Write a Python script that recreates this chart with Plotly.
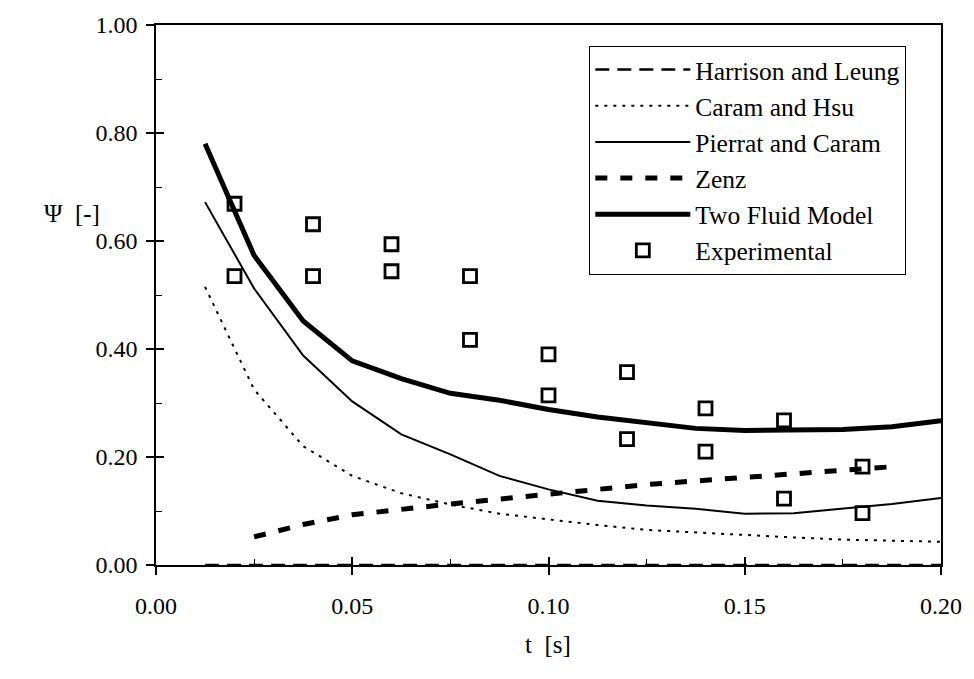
import plotly.graph_objects as go

# model curves (t in s)
t_model = [0.0125, 0.025, 0.0375, 0.05, 0.0625, 0.075, 0.0875, 0.10, 0.1125,
           0.125, 0.1375, 0.15, 0.1625, 0.175, 0.1875, 0.20]
harrison = [0.0] * len(t_model)
caram_hsu = [0.515, 0.325, 0.220, 0.165, 0.133, 0.112, 0.095, 0.084, 0.074,
             0.065, 0.060, 0.055, 0.051, 0.047, 0.045, 0.043]
pierrat = [0.672, 0.512, 0.388, 0.303, 0.242, 0.205, 0.165, 0.140, 0.119,
           0.110, 0.104, 0.095, 0.096, 0.105, 0.113, 0.124]
two_fluid = [0.780, 0.573, 0.452, 0.378, 0.345, 0.318, 0.305, 0.288, 0.274,
             0.264, 0.253, 0.249, 0.251, 0.251, 0.256, 0.267]

t_zenz = [0.025, 0.0375, 0.05, 0.0625, 0.075, 0.0875, 0.10, 0.1125, 0.125,
          0.1375, 0.15, 0.1625, 0.175, 0.1875]
zenz = [0.052, 0.075, 0.093, 0.104, 0.113, 0.122, 0.132, 0.140, 0.149,
        0.156, 0.163, 0.170, 0.176, 0.182]

t_exp = [0.02, 0.02, 0.04, 0.04, 0.06, 0.06, 0.08, 0.08, 0.10, 0.10,
         0.12, 0.12, 0.14, 0.14, 0.16, 0.16, 0.18, 0.18]
psi_exp = [0.669, 0.535, 0.631, 0.535, 0.594, 0.544, 0.535, 0.417, 0.390, 0.314,
           0.357, 0.233, 0.290, 0.210, 0.268, 0.123, 0.182, 0.096]

FONT = "Liberation Serif, Times New Roman, serif"

fig = go.Figure()
fig.add_trace(go.Scatter(x=t_model, y=harrison, mode="lines", name="Harrison and Leung",
                         line=dict(color="black", width=2.5, dash="14px,8px")))
fig.add_trace(go.Scatter(x=t_model, y=caram_hsu, mode="lines", name="Caram and Hsu",
                         line=dict(color="black", width=2, dash="3px,6px")))
fig.add_trace(go.Scatter(x=t_model, y=pierrat, mode="lines", name="Pierrat and Caram",
                         line=dict(color="black", width=2)))
fig.add_trace(go.Scatter(x=t_zenz, y=zenz, mode="lines", name="Zenz",
                         line=dict(color="black", width=5, dash="12px,13px")))
fig.add_trace(go.Scatter(x=t_model, y=two_fluid, mode="lines", name="Two Fluid Model",
                         line=dict(color="black", width=5)))
fig.add_trace(go.Scatter(x=t_exp, y=psi_exp, mode="markers", name="Experimental",
                         marker=dict(symbol="square-open", size=13, color="black",
                                     line=dict(width=2.8, color="black"))))
# helper trace for inside tick marks
fig.add_trace(go.Scatter(x=[None], y=[None], xaxis="x2", yaxis="y2", showlegend=False,
                         hoverinfo="skip"))

axis_common = dict(showgrid=False, zeroline=False, linecolor="black", linewidth=1.5,
                   tickcolor="black", tickfont=dict(family=FONT, size=24, color="black"))

fig.update_layout(
    width=974, height=679,
    margin=dict(l=156, r=33, t=21, b=114),
    plot_bgcolor="white", paper_bgcolor="white",
    font=dict(family=FONT, color="black"),
    xaxis=dict(range=[0, 0.2], tickvals=[0, 0.05, 0.10, 0.15, 0.20], tickformat=".2f",
               ticks="outside", ticklen=8, tickwidth=1.5, ticklabelstandoff=10,
               mirror=True, showline=True,
               minor=dict(tickvals=[0.025, 0.075, 0.125, 0.175], ticks="inside",
                          ticklen=6, tickwidth=1, tickcolor="black"),
               **axis_common),
    yaxis=dict(range=[0, 1.0], tickvals=[0, 0.2, 0.4, 0.6, 0.8, 1.0], tickformat=".2f",
               ticks="outside", ticklen=8, tickwidth=1.5, ticklabelstandoff=4,
               mirror=True, showline=True,
               minor=dict(tickvals=[0.1, 0.3, 0.5, 0.7, 0.9], ticks="inside",
                          ticklen=6, tickwidth=1, tickcolor="black"),
               **axis_common),
    xaxis2=dict(range=[0, 0.2], overlaying="x", anchor="y2", side="bottom",
                tickvals=[0.05, 0.10, 0.15], ticks="inside", ticklen=8, tickwidth=1.5,
                tickcolor="black", showticklabels=False, showline=False,
                showgrid=False, zeroline=False),
    yaxis2=dict(range=[0, 1.0], overlaying="y", anchor="x2", side="left",
                tickvals=[0, 0.2, 0.4, 0.6, 0.8], ticks="inside", ticklen=8, tickwidth=1.5,
                tickcolor="black", showticklabels=False, showline=False,
                showgrid=False, zeroline=False),
    legend=dict(x=0.552, y=0.962, xanchor="left", yanchor="top",
                bgcolor="white", bordercolor="black", borderwidth=1,
                font=dict(family=FONT, size=25.5, color="black"),
                itemwidth=95, tracegroupgap=0),
    showlegend=True,
    annotations=[
        dict(text="\u03a8  [-]", x=-0.145, y=0.68, xref="paper", yref="paper",
             showarrow=False, font=dict(family=FONT, size=25, color="black")),
        dict(text="t  [s]", x=0.499, y=-0.175, xref="paper", yref="paper",
             showarrow=False, font=dict(family=FONT, size=25, color="black")),
    ],
)

fig.write_html("out.html")
